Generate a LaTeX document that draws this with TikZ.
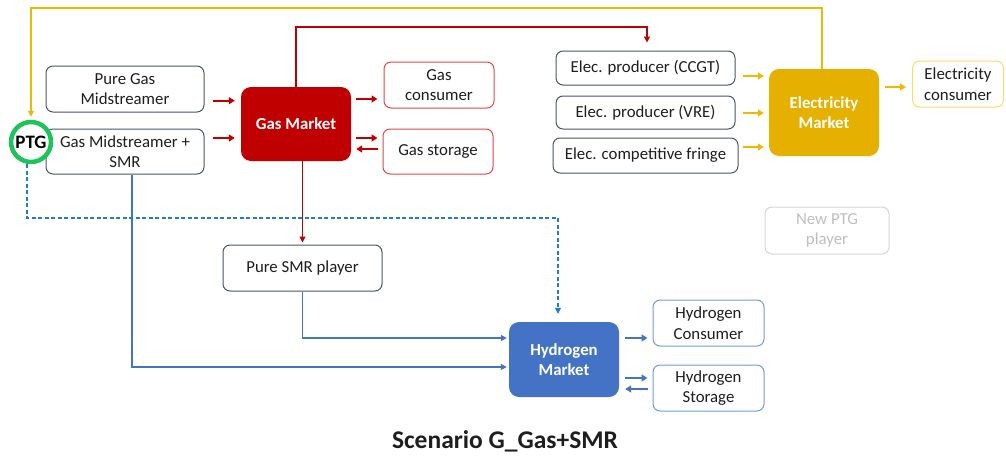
\documentclass[tikz,border=0pt]{standalone}
\usepackage{fontspec}
\setmainfont{Carlito}
\usetikzlibrary{arrows.meta,calc}
\definecolor{txt}{HTML}{1E1E1E}
\definecolor{slate}{HTML}{4A5568}
\definecolor{gasred}{HTML}{C00000}
\definecolor{gasline}{HTML}{E04848}
\definecolor{elec}{HTML}{E6B000}
\definecolor{elecline}{HTML}{F2B800}
\definecolor{eleclight}{HTML}{FFD966}
\definecolor{hyd}{HTML}{4472C4}
\definecolor{hydlight}{HTML}{6F9BE0}
\definecolor{dashblue}{HTML}{1F7BD6}
\definecolor{ptggreen}{HTML}{1DC45A}
\definecolor{ghost}{HTML}{D6D6D6}
\definecolor{ghosttxt}{HTML}{BFBFBF}
\tikzset{
  box/.style={draw=slate, line width=1pt, rounded corners=7pt, fill=white, align=center,
    text=txt, font=\fontsize{16.8}{20.5}\selectfont, inner sep=0pt},
  gasbox/.style={box, draw=gasline},
  hbox/.style={box, draw=hydlight},
  ebox/.style={box, draw=eleclight},
  ghostbox/.style={box, draw=ghost, text=ghosttxt},
  market/.style={rounded corners=10pt, align=center, text=white, inner sep=0pt,
    font=\fontsize{16.8}{20.5}\selectfont\bfseries},
  conn/.style={line width=1.4pt, -{Triangle[length=6pt,width=6pt]}},
  short/.style={line width=2.4pt, -{Triangle[length=6pt,width=7pt]}},
}
\begin{document}
\begin{tikzpicture}[x=1pt,y=-1pt]
\useasboundingbox (0,0) rectangle (1006,458);
% nodes
\node[box, minimum width=158pt, minimum height=46pt] (pgm) at (125,89) {Pure Gas\\Midstreamer};
\node[box, minimum width=158pt, minimum height=45pt] (gms) at (125,151.5) {Gas Midstreamer +\\SMR};
\node[circle, draw=ptggreen, line width=4.5pt, fill=white, minimum size=40pt, inner sep=0pt,
  font=\fontsize{19}{22}\selectfont\bfseries, text=black] (ptg) at (31,142) {PTG};
\node[market, fill=gasred, minimum width=110pt, minimum height=74pt] (gm) at (296,124) {Gas Market};
\node[gasbox, minimum width=110pt, minimum height=46pt] (gc) at (439,85) {Gas\\consumer};
\node[gasbox, minimum width=110pt, minimum height=45pt] (gs) at (438,151.5) {Gas storage};
\node[box, minimum width=179pt, minimum height=34pt] (ccgt) at (645.5,68) {Elec. producer (CCGT)};
\node[box, minimum width=179pt, minimum height=33pt] (vre) at (645.5,112.5) {Elec. producer (VRE)};
\node[box, minimum width=185pt, minimum height=35pt] (fringe) at (645.5,155.5) {Elec. competitive fringe};
\node[market, fill=elec, minimum width=110pt, minimum height=87pt] (em) at (824,112.5) {Electricity\\Market};
\node[ebox, minimum width=91pt, minimum height=46pt] (ec) at (958,84) {Electricity\\consumer};
\node[ghostbox, minimum width=124pt, minimum height=47pt] (nptg) at (827,230.5) {New PTG\\player};
\node[box, minimum width=159pt, minimum height=46pt] (smr) at (302.5,268) {Pure SMR player};
\node[market, fill=hyd, minimum width=110pt, minimum height=75pt] (hm) at (564,359.5) {Hydrogen\\Market};
\node[hbox, minimum width=111pt, minimum height=46pt] (hc) at (708.5,323) {Hydrogen\\Consumer};
\node[hbox, minimum width=111pt, minimum height=46pt] (hs) at (708.5,388) {Hydrogen\\Storage};
\node[font=\fontsize{25.5}{28}\selectfont\bfseries, text=txt] (title) at (505,441) {Scenario G\_Gas+SMR};
% long connectors
\draw[conn, elecline, shorten >=3pt] (em.north -| 822,0) |- (31,8) -- (ptg.north);
\draw[conn, gasred, shorten >=8pt] (gm.north) |- (647,27) -- (ccgt.north -| 647,0);
\draw[conn, gasred, shorten >=2pt] (smr.north |- gm.south) -- (smr.north);
\draw[conn, hyd, shorten >=2pt] (smr.south) |- (hm.west |- 0,338);
\draw[conn, hyd, shorten >=2pt] (gms.south -| 132,0) |- (hm.west |- 0,367);
\draw[conn, dashblue, line width=1.3pt, dash pattern=on 4pt off 2.5pt, shorten >=8pt]
  (ptg.south -| 27,0) |- (558,218) -- (hm.north -| 558,0);
% short arrows
\draw[short, gasred, shorten <=8pt, shorten >=6pt] (pgm.east |- 0,100.7) -- (gm.west |- 0,100.7);
\draw[short, gasred, shorten <=8pt, shorten >=6pt] (gms.east |- 0,138) -- (gm.west |- 0,138);
\draw[short, gasred, shorten <=5pt, shorten >=6pt] (gm.east |- 0,99) -- (gc.west |- 0,99);
\draw[short, gasred, shorten <=5pt, shorten >=5pt] (gm.east |- 0,138) -- (gs.west |- 0,138);
\draw[short, gasred, shorten <=5pt, shorten >=5pt] (gs.west |- 0,149) -- (gm.east |- 0,149);
\draw[short, elecline, shorten <=7pt, shorten >=5pt] (ccgt.east |- 0,76) -- (em.west |- 0,76);
\draw[short, elecline, shorten <=7pt, shorten >=5pt] (vre.east |- 0,113) -- (em.west |- 0,113);
\draw[short, elecline, shorten <=4pt, shorten >=5pt] (fringe.east |- 0,147) -- (em.west |- 0,147);
\draw[short, elecline, shorten <=6pt, shorten >=6pt] (em.east |- 0,87) -- (ec.west |- 0,87);
\draw[short, hyd, shorten <=6pt, shorten >=5pt] (hm.east |- 0,338) -- (hc.west |- 0,338);
\draw[short, hyd, shorten <=6pt, shorten >=5pt] (hm.east |- 0,378) -- (hs.west |- 0,378);
\draw[short, hyd, shorten <=5pt, shorten >=6pt] (hs.west |- 0,389) -- (hm.east |- 0,389);
\end{tikzpicture}
\end{document}
